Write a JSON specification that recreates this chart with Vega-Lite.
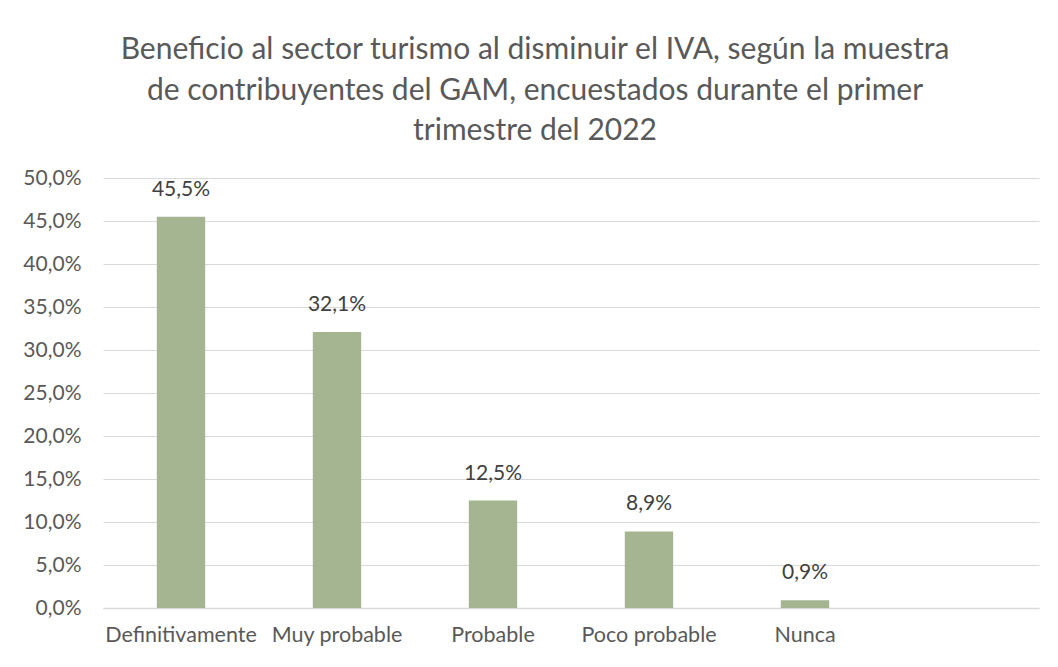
{
  "$schema": "https://vega.github.io/schema/vega-lite/v6.json",
  "autosize": "none",
  "width": 936,
  "height": 430,
  "padding": {"left": 103, "top": 178, "right": 19, "bottom": 59},
  "background": "white",
  "title": {
    "text": ["Beneficio al sector turismo al disminuir el IVA, según la muestra", "de contribuyentes del GAM, encuestados durante el primer", "trimestre del 2022"],
    "anchor": "middle",
    "frame": "group",
    "dx": -36,
    "offset": 21,
    "font": "Lato",
    "fontSize": 30,
    "fontWeight": "normal",
    "color": "#595959",
    "lineHeight": 40.5
  },
  "data": {
    "values": [
      {"cat": "Definitivamente", "value": 0.455},
      {"cat": "Muy probable", "value": 0.321},
      {"cat": "Probable", "value": 0.125},
      {"cat": "Poco probable", "value": 0.089},
      {"cat": "Nunca", "value": 0.009}
    ]
  },
  "encoding": {
    "x": {
      "field": "cat",
      "type": "nominal",
      "sort": null,
      "scale": {"domain": ["Definitivamente", "Muy probable", "Probable", "Poco probable", "Nunca", " "], "paddingInner": 0.69, "paddingOuter": 0.345},
      "axis": {
        "title": null,
        "labelAngle": 0,
        "labelFont": "Lato",
        "labelFontSize": 21.5,
        "labelColor": "#595959",
        "labelPadding": 16,
        "ticks": false,
        "domainColor": "#d9d9d9",
        "domainWidth": 1.5,
        "grid": false
      }
    },
    "y": {
      "field": "value",
      "type": "quantitative",
      "scale": {"domain": [0, 0.5], "nice": false},
      "axis": {
        "title": null,
        "values": [0, 0.05, 0.1, 0.15, 0.2, 0.25, 0.3, 0.35, 0.4, 0.45, 0.5],
        "format": ".1%",
        "labelFont": "Lato",
        "labelFontSize": 21,
        "labelColor": "#595959",
        "labelPadding": 22,
        "ticks": false,
        "domain": false,
        "gridColor": "#d9d9d9",
        "gridWidth": 1.2
      }
    }
  },
  "layer": [
    {"mark": {"type": "bar", "color": "#a5b592"}},
    {
      "mark": {"type": "text", "dy": -27, "baseline": "middle", "font": "Lato", "fontSize": 21, "color": "#404040"},
      "encoding": {
        "text": {"field": "value", "type": "quantitative", "format": ".1%"}
      }
    }
  ],
  "config": {"view": {"stroke": null}, "locale": {"number": {"decimal": ",", "thousands": ".", "grouping": [3], "currency": ["", "€"], "percent": "%"}}}
}
